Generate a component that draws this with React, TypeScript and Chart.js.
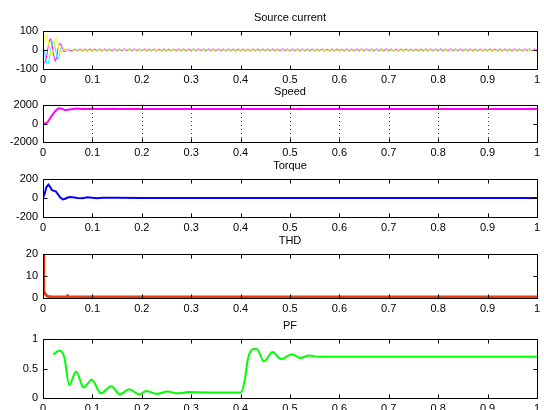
import React, { useEffect, useRef } from "react";
import { Chart, registerables } from "chart.js";
Chart.register(...registerables);

// ---------- shared axis data ----------
const xTickValues = [0, 0.1, 0.2, 0.3, 0.4, 0.5, 0.6, 0.7, 0.8, 0.9, 1];
const xTickLabels = ["0", "0.1", "0.2", "0.3", "0.4", "0.5", "0.6", "0.7", "0.8", "0.9", "1"];

// ---------- Source current ----------
const curTransTime = [0, 0.0025, 0.005, 0.0075, 0.01, 0.0125, 0.015, 0.0175, 0.02, 0.0225, 0.025, 0.0275, 0.03, 0.0325, 0.035, 0.0375, 0.04, 0.0425, 0.045, 0.0475, 0.05];
const curATrans = [10, 50, 80, 85, 55, 15, -20, -30, -15, 25, 55, 65, 35, 0, -15, -12, 5, 10, 5, 2, 0];
const curBTrans = [-55, -70, -60, -30, 10, 45, 60, 40, 0, -40, -60, -40, 0, 30, 35, 20, 0, -10, -6, -3, 2];
const curCTrans = [25, -10, -40, -70, -75, -50, -10, 25, 45, 40, 10, -30, -50, -35, 0, 12, 15, 5, 0, 2, 5];
const curSteadyStart = 0.06;
const curSteadyStep = 0.005;
const curASteady = [
  4, -4, 4, -4, 4, -4, 4, -4, 4, -4, 4, -4, 4, -4, 4, -4, 4, -4, 4, -4,
  4, -4, 4, -4, 4, -4, 4, -4, 4, -4, 4, -4, 4, -4, 4, -4, 4, -4, 4, -4,
  4, -4, 4, -4, 4, -4, 4, -4, 4, -4, 4, -4, 4, -4, 4, -4, 4, -4, 4, -4,
  4, -4, 4, -4, 4, -4, 4, -4, 4, -4, 4, -4, 4, -4, 4, -4, 4, -4, 4, -4,
  4, -4, 4, -4, 4, -4, 4, -4, 4, -4, 4, -4, 4, -4, 4, -4, 4, -4, 4, -4,
  4, -4, 4, -4, 4, -4, 4, -4, 4, -4, 4, -4, 4, -4, 4, -4, 4, -4, 4, -4,
  4, -4, 4, -4, 4, -4, 4, -4, 4, -4, 4, -4, 4, -4, 4, -4, 4, -4, 4, -4,
  4, -4, 4, -4, 4, -4, 4, -4, 4, -4, 4, -4, 4, -4, 4, -4, 4, -4, 4, -4,
  4, -4, 4, -4, 4, -4, 4, -4, 4, -4, 4, -4, 4, -4, 4, -4, 4, -4, 4, -4,
  4, -4, 4, -4, 4, -4, 4, -4, 4,
];
const curBSteady = [
  -6, 6, -6, 6, -6, 6, -6, 6, -6, 6, -6, 6, -6, 6, -6, 6, -6, 6, -6, 6,
  -6, 6, -6, 6, -6, 6, -6, 6, -6, 6, -6, 6, -6, 6, -6, 6, -6, 6, -6, 6,
  -6, 6, -6, 6, -6, 6, -6, 6, -6, 6, -6, 6, -6, 6, -6, 6, -6, 6, -6, 6,
  -6, 6, -6, 6, -6, 6, -6, 6, -6, 6, -6, 6, -6, 6, -6, 6, -6, 6, -6, 6,
  -6, 6, -6, 6, -6, 6, -6, 6, -6, 6, -6, 6, -6, 6, -6, 6, -6, 6, -6, 6,
  -6, 6, -6, 6, -6, 6, -6, 6, -6, 6, -6, 6, -6, 6, -6, 6, -6, 6, -6, 6,
  -6, 6, -6, 6, -6, 6, -6, 6, -6, 6, -6, 6, -6, 6, -6, 6, -6, 6, -6, 6,
  -6, 6, -6, 6, -6, 6, -6, 6, -6, 6, -6, 6, -6, 6, -6, 6, -6, 6, -6, 6,
  -6, 6, -6, 6, -6, 6, -6, 6, -6, 6, -6, 6, -6, 6, -6, 6, -6, 6, -6, 6,
  -6, 6, -6, 6, -6, 6, -6, 6, -6,
];
const curCSteady = [
  2, -2, 2, -2, 2, -2, 2, -2, 2, -2, 2, -2, 2, -2, 2, -2, 2, -2, 2, -2,
  2, -2, 2, -2, 2, -2, 2, -2, 2, -2, 2, -2, 2, -2, 2, -2, 2, -2, 2, -2,
  2, -2, 2, -2, 2, -2, 2, -2, 2, -2, 2, -2, 2, -2, 2, -2, 2, -2, 2, -2,
  2, -2, 2, -2, 2, -2, 2, -2, 2, -2, 2, -2, 2, -2, 2, -2, 2, -2, 2, -2,
  2, -2, 2, -2, 2, -2, 2, -2, 2, -2, 2, -2, 2, -2, 2, -2, 2, -2, 2, -2,
  2, -2, 2, -2, 2, -2, 2, -2, 2, -2, 2, -2, 2, -2, 2, -2, 2, -2, 2, -2,
  2, -2, 2, -2, 2, -2, 2, -2, 2, -2, 2, -2, 2, -2, 2, -2, 2, -2, 2, -2,
  2, -2, 2, -2, 2, -2, 2, -2, 2, -2, 2, -2, 2, -2, 2, -2, 2, -2, 2, -2,
  2, -2, 2, -2, 2, -2, 2, -2, 2, -2, 2, -2, 2, -2, 2, -2, 2, -2, 2, -2,
  2, -2, 2, -2, 2, -2, 2, -2, 2,
];
const curYTicks = [-100, 0, 100];

// ---------- Speed ----------
const speedTime = [0, 0.004, 0.008, 0.012, 0.016, 0.02, 0.025, 0.03, 0.035, 0.04, 0.045, 0.05, 0.06, 0.07, 0.08, 0.1, 0.12, 0.14, 0.16, 0.18, 0.2, 1];
const speedValue = [0, 0, 80, 350, 700, 1000, 1350, 1600, 1650, 1560, 1450, 1480, 1570, 1620, 1560, 1600, 1560, 1590, 1560, 1580, 1560, 1560];
const speedYTicks = [-2000, 0, 2000];

// ---------- Torque ----------
const torqueTime = [0, 0.003, 0.007, 0.011, 0.014, 0.018, 0.022, 0.026, 0.03, 0.035, 0.04, 0.045, 0.05, 0.055, 0.06, 0.07, 0.08, 0.09, 0.1, 0.11, 0.12, 0.15, 0.2, 1];
const torqueValue = [0, 40, 115, 140, 120, 85, 75, 70, 40, 5, -15, -8, 5, 10, 8, 0, -3, 8, 2, -2, 2, 3, 0, 0];
const torqueYTicks = [-200, 0, 200];

// ---------- THD ----------
const thdTime = [0, 0.001, 0.002, 0.004, 0.007, 0.01, 0.02, 0.048, 0.05, 0.052, 0.06, 1];
const thdValue = [20, 7, 3, 2, 1.2, 0.7, 0.5, 0.5, 1.0, 0.5, 0.5, 0.5];
const thdYTicks = [0, 10, 20];

// ---------- PF ----------
const pfTime = [0.021, 0.032, 0.043, 0.053, 0.067, 0.082, 0.099, 0.117, 0.138, 0.156, 0.174, 0.195, 0.209, 0.23, 0.252, 0.273, 0.294, 0.33, 0.4, 0.408, 0.415, 0.426, 0.433, 0.447, 0.465, 0.482, 0.504, 0.521, 0.539, 0.557, 0.61, 1];
const pfValue = [0.74, 0.8, 0.7, 0.22, 0.45, 0.18, 0.31, 0.08, 0.2, 0.06, 0.15, 0.06, 0.12, 0.07, 0.11, 0.08, 0.1, 0.095, 0.095, 0.28, 0.67, 0.83, 0.83, 0.62, 0.78, 0.66, 0.74, 0.68, 0.72, 0.7, 0.7, 0.7];
const pfYTicks = [0, 0.5, 1];

const FONT = "'Liberation Sans', Arial, Helvetica, sans-serif";
const TOP_PAD = 24;
const BOTTOM_H = 16;

type Series = { points: { x: number; y: number }[]; color: string; width: number; smooth?: boolean };
type PanelCfg = {
  title: string;
  plotTop: number;
  plotBottom: number;
  yMin: number;
  yMax: number;
  yTicks: number[];
  grid?: boolean;
  series: Series[];
};

const zip = (t: number[], v: number[]) => v.map((y, i) => ({ x: t[i], y }));
const steadyPts = (v: number[]) => v.map((y, i) => ({ x: curSteadyStart + i * curSteadyStep, y }));

const panels: PanelCfg[] = [
  {
    title: "Source current",
    plotTop: 31,
    plotBottom: 69,
    yMin: -100,
    yMax: 100,
    yTicks: curYTicks,
    series: [
      { points: [...zip(curTransTime, curATrans), ...steadyPts(curASteady)], color: "#ffff00", width: 1 },
      { points: [...zip(curTransTime, curCTrans), ...steadyPts(curCSteady)], color: "#00ffff", width: 1 },
      { points: [...zip(curTransTime, curBTrans), ...steadyPts(curBSteady)], color: "#ff00ff", width: 1 },
    ],
  },
  {
    title: "Speed",
    plotTop: 105,
    plotBottom: 142,
    yMin: -2000,
    yMax: 2000,
    yTicks: speedYTicks,
    grid: true,
    series: [{ points: zip(speedTime, speedValue), color: "#ff00ff", width: 2 }],
  },
  {
    title: "Torque",
    plotTop: 179,
    plotBottom: 217,
    yMin: -200,
    yMax: 200,
    yTicks: torqueYTicks,
    series: [{ points: zip(torqueTime, torqueValue), color: "#0000ff", width: 2 }],
  },
  {
    title: "THD",
    plotTop: 254,
    plotBottom: 298,
    yMin: 0,
    yMax: 20,
    yTicks: thdYTicks,
    series: [{ points: zip(thdTime, thdValue), color: "#ea3a12", width: 3 }],
  },
  {
    title: "PF",
    plotTop: 339,
    plotBottom: 398,
    yMin: 0,
    yMax: 1,
    yTicks: pfYTicks,
    series: [{ points: zip(pfTime, pfValue), color: "#00ff00", width: 2, smooth: true }],
  },
];

const framePlugin = {
  id: "matlabFrame",
  beforeDatasetsDraw(chart: any, _a: any, opts: any) {
    if (!opts.grid) return;
    const { ctx, chartArea } = chart;
    const xs = chart.scales.x;
    ctx.save();
    ctx.strokeStyle = "#333";
    ctx.lineWidth = 1;
    ctx.setLineDash([1, 3]);
    for (const v of xTickValues) {
      if (v <= 0 || v >= 1) continue;
      const px = Math.round(xs.getPixelForValue(v)) + 0.5;
      ctx.beginPath();
      ctx.moveTo(px, chartArea.top);
      ctx.lineTo(px, chartArea.bottom);
      ctx.stroke();
    }
    ctx.restore();
  },
  afterDraw(chart: any, _a: any, opts: any) {
    const { ctx, chartArea } = chart;
    const xs = chart.scales.x;
    const ys = chart.scales.y;
    const L = Math.round(chartArea.left) + 0.5;
    const R = Math.round(chartArea.right) + 0.5;
    const T = Math.round(chartArea.top) + 0.5;
    const B = Math.round(chartArea.bottom) + 0.5;
    ctx.save();
    ctx.strokeStyle = "#000";
    ctx.lineWidth = 1;
    ctx.setLineDash([]);
    ctx.strokeRect(L, T, R - L, B - T);
    const tl = 4;
    ctx.beginPath();
    for (const v of xTickValues) {
      const px = Math.round(xs.getPixelForValue(v)) + 0.5;
      ctx.moveTo(px, B);
      ctx.lineTo(px, B - tl);
      ctx.moveTo(px, T);
      ctx.lineTo(px, T + tl);
    }
    for (const v of opts.yTicks as number[]) {
      const py = Math.round(ys.getPixelForValue(v)) + 0.5;
      ctx.moveTo(L, py);
      ctx.lineTo(L + tl, py);
      ctx.moveTo(R, py);
      ctx.lineTo(R - tl, py);
    }
    ctx.stroke();
    ctx.fillStyle = "#000";
    ctx.font = `11px ${FONT}`;
    ctx.textAlign = "center";
    ctx.textBaseline = "middle";
    ctx.fillText(opts.title, (chartArea.left + chartArea.right) / 2, chartArea.top - 13);
    ctx.restore();
  },
};

function Panel({ cfg }: { cfg: PanelCfg }) {
  const ref = useRef<HTMLCanvasElement>(null);
  const plotH = cfg.plotBottom - cfg.plotTop;
  const h = TOP_PAD + plotH + BOTTOM_H;
  useEffect(() => {
    const chart = new Chart(ref.current as HTMLCanvasElement, {
      type: "line",
      data: {
        datasets: cfg.series.map((s) => ({
          data: s.points,
          borderColor: s.color,
          borderWidth: s.width,
          pointRadius: 0,
          fill: false,
          tension: 0,
          cubicInterpolationMode: s.smooth ? "monotone" : "default",
        })),
      } as any,
      options: {
        responsive: false,
        animation: false,
        devicePixelRatio: 1,
        parsing: false,
        layout: { padding: { top: TOP_PAD, right: 3, left: 0, bottom: 0 } },
        plugins: {
          legend: { display: false },
          tooltip: { enabled: false },
          title: { display: false },
          matlabFrame: { title: cfg.title, yTicks: cfg.yTicks, grid: !!cfg.grid },
        } as any,
        scales: {
          x: {
            type: "linear",
            min: 0,
            max: 1,
            afterBuildTicks: (s: any) => {
              s.ticks = xTickValues.map((v) => ({ value: v }));
            },
            afterFit: (s: any) => {
              s.height = BOTTOM_H;
            },
            grid: { display: false, drawTicks: false },
            border: { display: false },
            ticks: {
              autoSkip: false,
              maxRotation: 0,
              padding: 4,
              color: "#000",
              font: { family: FONT, size: 11 },
              callback: (_v: any, i: number) => xTickLabels[i],
            },
          },
          y: {
            type: "linear",
            min: cfg.yMin,
            max: cfg.yMax,
            afterBuildTicks: (s: any) => {
              s.ticks = cfg.yTicks.map((v) => ({ value: v }));
            },
            afterFit: (s: any) => {
              s.width = 43;
            },
            grid: { display: false, drawTicks: false },
            border: { display: false },
            ticks: {
              autoSkip: false,
              padding: 5,
              color: "#000",
              font: { family: FONT, size: 11 },
              callback: (_v: any, i: number) => String(cfg.yTicks[i]),
            },
          },
        },
      } as any,
      plugins: [framePlugin as any],
    });
    return () => chart.destroy();
  }, []);
  return (
    <canvas
      ref={ref}
      width={544}
      height={h}
      style={{ position: "absolute", left: 0, top: cfg.plotTop - TOP_PAD, width: 544, height: h }}
    />
  );
}

export default function App() {
  return (
    <div
      style={{
        position: "absolute",
        left: 0,
        top: 0,
        width: 544,
        height: 410,
        overflow: "hidden",
        background: "#fff",
      }}
    >
      {panels.map((p) => (
        <Panel key={p.title} cfg={p} />
      ))}
    </div>
  );
}
